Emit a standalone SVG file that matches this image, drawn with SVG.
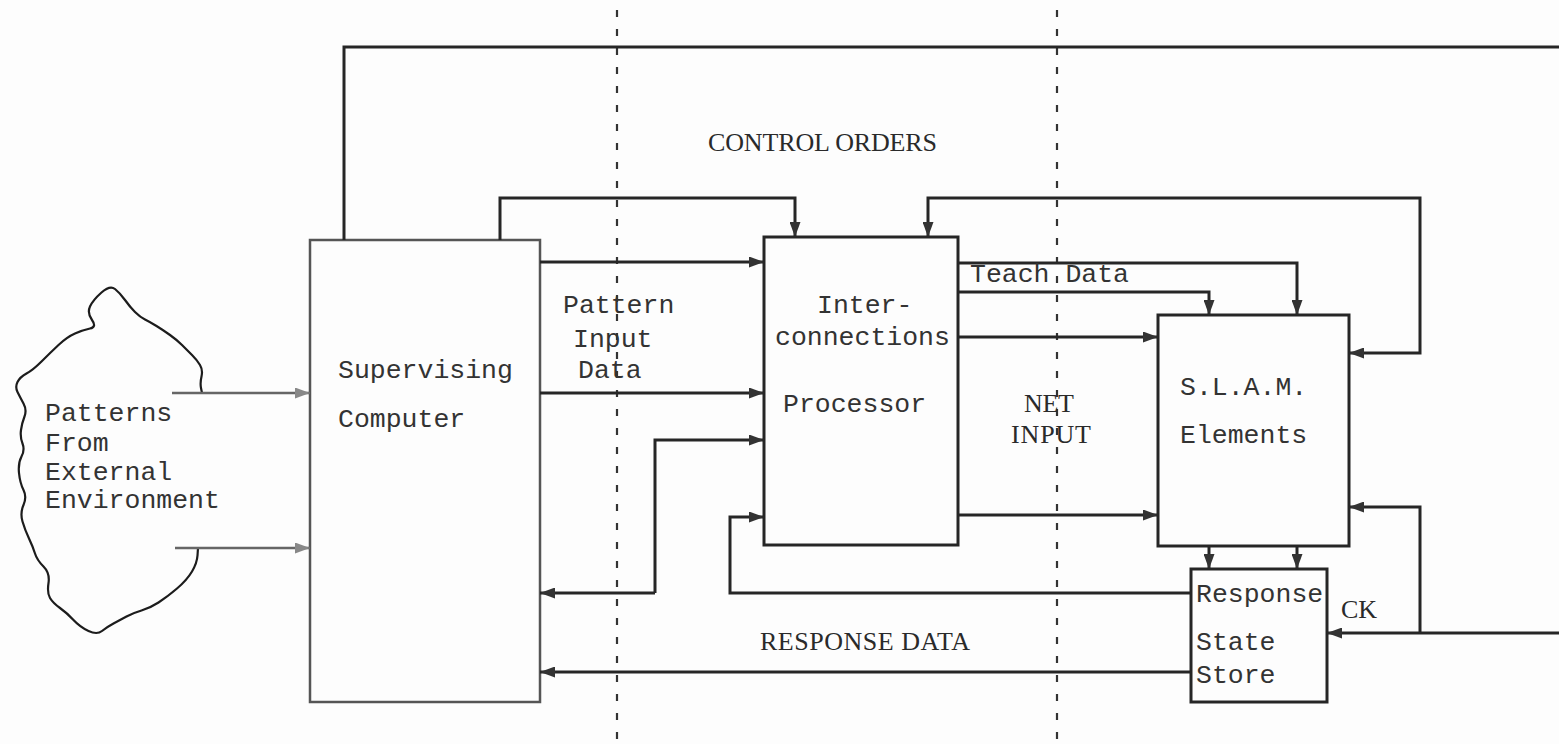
<svg xmlns="http://www.w3.org/2000/svg" width="1559" height="744" viewBox="0 0 1559 744">
<style>
.bg{fill:#fdfdfd}
.box{fill:none;stroke:#262626;stroke-width:3}
.box2{fill:none;stroke:#555;stroke-width:2.5}
.ln{fill:none;stroke:#262626;stroke-width:3;stroke-linejoin:miter}
.ln2{fill:none;stroke:#666;stroke-width:2.5}
.dash{fill:none;stroke:#333;stroke-width:2.2;stroke-dasharray:7 12}
.cloud{fill:none;stroke:#1c1c1c;stroke-width:2.2;stroke-linejoin:round;stroke-linecap:round}
text{font-family:"Liberation Mono","Courier New",monospace;font-size:26.5px;fill:#333}
text.caps{font-family:"Liberation Serif","Times New Roman",serif;font-size:26px;fill:#2a2a2a}
</style>
<defs>
<marker id="ah" markerUnits="userSpaceOnUse" markerWidth="15" markerHeight="11" refX="15" refY="5.5" orient="auto-start-reverse">
<path d="M0,0 L15,5.5 L0,11 Z" fill="#333"/>
</marker>
<marker id="ahg" markerUnits="userSpaceOnUse" markerWidth="15" markerHeight="11" refX="15" refY="5.5" orient="auto">
<path d="M0,0 L15,5.5 L0,11 Z" fill="#888"/>
</marker>
</defs>
<rect class="bg" x="0" y="0" width="1559" height="744"/>

<g id="dividers">
<path class="dash" d="M617,10 V744"/>
<path class="dash" d="M1057,10 V744"/>
</g>

<g id="environment">
<path class="cloud" d="M202,393 L201,388 Q200,383 201.5,376.5 Q203,370 200,365 Q197,360 192,355 Q187,350 182,345 Q177,340 170,335 Q163,330 156.5,326 Q150,322 145,319.5 Q140,317 135,312 Q130,307 125,300 Q120,293 115,289 Q110,285 101.5,292.5 Q93,300 90,306.5 Q87,313 92,320 Q97,327 90,328.5 Q83,330 75,333.5 Q67,337 58.5,345 Q50,353 41.5,361.5 Q33,370 26.5,373.5 Q20,377 17.5,382 Q15,387 17.5,392 Q20,397 23.5,403.5 Q27,410 24.5,416.5 Q22,423 21,430 Q20,437 22.5,443.5 Q25,450 21.5,456.5 Q18,463 19,473 Q20,483 23.5,490 Q27,497 23.5,505 Q20,513 22.5,521.5 Q25,530 29,538.5 Q33,547 35,553.5 Q37,560 43.5,566.5 Q50,573 48.5,583 Q47,593 50,598 Q53,603 60,608 Q67,613 73.5,620 Q80,627 88.5,631 Q97,635 102,631 Q107,627 113.5,623.5 Q120,620 126.5,616.5 Q133,613 141.5,610.5 Q150,608 158.5,602.5 Q167,597 177,588.5 Q187,580 192,571.5 Q197,563 197.5,555.5 L198,548"/>
<text x="45" y="421">Patterns</text>
<text x="45" y="451">From</text>
<text x="45" y="480">External</text>
<text x="45" y="508">Environment</text>
</g>

<g id="supervising-computer">
<rect class="box2" x="310" y="240" width="230" height="462"/>
<text x="338" y="378">Supervising</text>
<text x="338" y="427">Computer</text>
</g>

<g id="interconnections-processor">
<rect class="box" x="764" y="237" width="194" height="308"/>
<text x="817" y="313">Inter-</text>
<text x="775" y="345">connections</text>
<text x="783" y="412">Processor</text>
</g>

<g id="slam-elements">
<rect class="box" x="1158" y="315" width="191" height="231"/>
<text x="1180" y="395">S.L.A.M.</text>
<text x="1180" y="443">Elements</text>
</g>

<g id="response-state-store">
<rect class="box" x="1191" y="569" width="136" height="133"/>
<text x="1196" y="602">Response</text>
<text x="1196" y="650">State</text>
<text x="1196" y="683">Store</text>
</g>

<g id="connectors">
<path class="ln" d="M344,240 V47 H1559"/>
<path class="ln" d="M500,240 V198 H795 V237" marker-end="url(#ah)"/>
<path class="ln" d="M540,262 H764" marker-end="url(#ah)"/>
<path class="ln" d="M540,393 H764" marker-end="url(#ah)"/>
<path class="ln2" d="M172,393 H310" marker-end="url(#ahg)"/>
<path class="ln2" d="M175,548 H310" marker-end="url(#ahg)"/>
<path class="ln" d="M655,593 H540" marker-end="url(#ah)"/>
<path class="ln" d="M655,593 V440 H764" marker-end="url(#ah)"/>
<path class="ln" d="M1191,593 H730 V517 H764" marker-end="url(#ah)"/>
<path class="ln" d="M1191,672 H540" marker-end="url(#ah)"/>
<path class="ln" d="M958,263 H1297 V315" marker-end="url(#ah)"/>
<path class="ln" d="M958,292 H1209 V315" marker-end="url(#ah)"/>
<path class="ln" d="M958,337 H1158" marker-end="url(#ah)"/>
<path class="ln" d="M958,515 H1158" marker-end="url(#ah)"/>
<path class="ln" d="M1349,353 H1420 V198 H928 V237" marker-start="url(#ah)" marker-end="url(#ah)"/>
<path class="ln" d="M1209,546 V569" marker-end="url(#ah)"/>
<path class="ln" d="M1297,546 V569" marker-end="url(#ah)"/>
<path class="ln" d="M1559,633 H1327" marker-end="url(#ah)"/>
<path class="ln" d="M1420,633 V507 H1349" marker-end="url(#ah)"/>
<text class="caps" x="708" y="151" textLength="229" lengthAdjust="spacing">CONTROL ORDERS</text>
<text x="563" y="313">Pattern</text>
<text x="573" y="347">Input</text>
<text x="578" y="378">Data</text>
<text x="970" y="282">Teach Data</text>
<text class="caps" x="1024" y="412" textLength="50" lengthAdjust="spacing">NET</text>
<text class="caps" x="1011" y="443" textLength="80" lengthAdjust="spacing">INPUT</text>
<text class="caps" x="760" y="650" textLength="210" lengthAdjust="spacing">RESPONSE DATA</text>
<text class="caps" x="1341" y="618" textLength="36" lengthAdjust="spacing">CK</text>
</g>
</svg>
